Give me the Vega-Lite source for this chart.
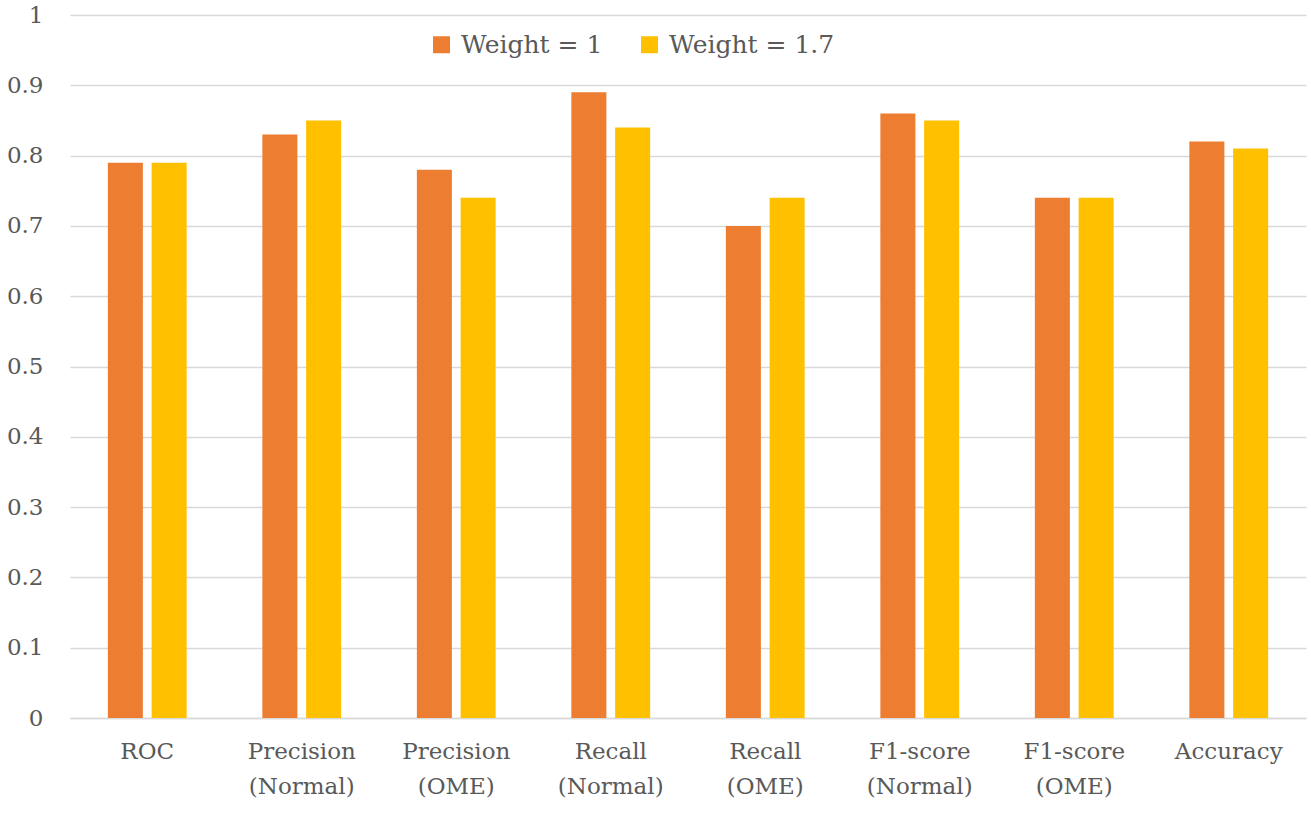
{
  "$schema": "https://vega.github.io/schema/vega-lite/v6.json",
  "width": 1236,
  "height": 703,
  "autosize": {"type": "none"},
  "padding": {"left": 70, "top": 15, "right": 5, "bottom": 95},
  "background": "white",
  "config": {
    "view": {"stroke": null},
    "font": "DejaVu Serif"
  },
  "data": {
    "values": [
      {"metric": "ROC", "series": "Weight = 1", "value": 0.79},
      {"metric": "ROC", "series": "Weight = 1.7", "value": 0.79},
      {"metric": "Precision (Normal)", "series": "Weight = 1", "value": 0.83},
      {"metric": "Precision (Normal)", "series": "Weight = 1.7", "value": 0.85},
      {"metric": "Precision (OME)", "series": "Weight = 1", "value": 0.78},
      {"metric": "Precision (OME)", "series": "Weight = 1.7", "value": 0.74},
      {"metric": "Recall (Normal)", "series": "Weight = 1", "value": 0.89},
      {"metric": "Recall (Normal)", "series": "Weight = 1.7", "value": 0.84},
      {"metric": "Recall (OME)", "series": "Weight = 1", "value": 0.70},
      {"metric": "Recall (OME)", "series": "Weight = 1.7", "value": 0.74},
      {"metric": "F1-score (Normal)", "series": "Weight = 1", "value": 0.86},
      {"metric": "F1-score (Normal)", "series": "Weight = 1.7", "value": 0.85},
      {"metric": "F1-score (OME)", "series": "Weight = 1", "value": 0.74},
      {"metric": "F1-score (OME)", "series": "Weight = 1.7", "value": 0.74},
      {"metric": "Accuracy", "series": "Weight = 1", "value": 0.82},
      {"metric": "Accuracy", "series": "Weight = 1.7", "value": 0.81}
    ]
  },
  "mark": {"type": "bar"},
  "encoding": {
    "x": {
      "field": "metric",
      "type": "nominal",
      "sort": null,
      "scale": {"paddingInner": 0.49, "paddingOuter": 0.245},
      "axis": {
        "title": null,
        "labelAngle": 0,
        "labelExpr": "split(datum.label, ' ')",
        "labelFont": "DejaVu Serif",
        "labelFontSize": 23,
        "labelColor": "#595959",
        "labelPadding": 22,
        "labelLineHeight": 35,
        "labelBaseline": "top",
        "ticks": false,
        "domain": true,
        "domainColor": "#D9D9D9",
        "domainWidth": 1.5,
        "grid": false
      }
    },
    "xOffset": {
      "field": "series",
      "type": "nominal",
      "scale": {"paddingInner": 0.2}
    },
    "y": {
      "field": "value",
      "type": "quantitative",
      "scale": {"domain": [0, 1], "nice": false},
      "axis": {
        "title": null,
        "values": [0, 0.1, 0.2, 0.3, 0.4, 0.5, 0.6, 0.7, 0.8, 0.9, 1],
        "labelExpr": "datum.value === 0 ? '0' : datum.value === 1 ? '1' : format(datum.value, '.1f')",
        "labelFont": "DejaVu Serif",
        "labelFontSize": 23,
        "labelColor": "#595959",
        "labelPadding": 27,
        "ticks": false,
        "domain": false,
        "grid": true,
        "gridColor": "#D9D9D9",
        "gridWidth": 1.5
      }
    },
    "color": {
      "field": "series",
      "type": "nominal",
      "scale": {"domain": ["Weight = 1", "Weight = 1.7"], "range": ["#ED7D31", "#FFC000"]},
      "legend": {
        "title": null,
        "orient": "none",
        "direction": "horizontal",
        "legendX": 359,
        "legendY": 17,
        "symbolType": "square",
        "symbolSize": 289,
        "symbolStrokeWidth": 0,
        "labelFont": "DejaVu Serif",
        "labelFontSize": 25,
        "labelLimit": 400,
        "labelColor": "#595959",
        "labelOffset": 7,
        "columnPadding": 34,
        "padding": 0
      }
    }
  }
}
